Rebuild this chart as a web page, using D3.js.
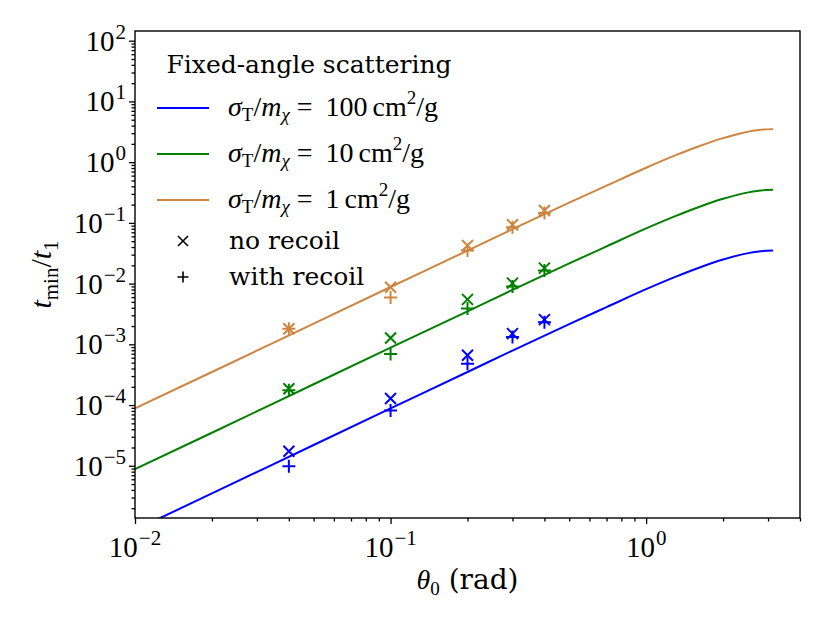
<!DOCTYPE html>
<html>
<head>
<meta charset="utf-8">
<script src="https://cdn.jsdelivr.net/npm/d3@7"></script>
<style>
  body { margin: 0; background: #fff; }
</style>
</head>
<body>
<script>
// curves, t_min/t_1 vs theta_0
var thetaLine = [0.01, 0.02, 0.05, 0.1, 0.2, 0.3, 0.5, 0.7, 1.0, 1.3, 1.6, 2.0, 2.4, 2.8, 3.14];
var line100 = [8.8e-7, 3.5e-6, 2.2e-5, 8.8e-5, 3.5e-4, 7.9e-4, 2.15e-3, 4.1e-3, 8.1e-3, 0.0129, 0.0181, 0.0249, 0.0306, 0.0342, 0.0350];
var line10 = [8.8e-6, 3.5e-5, 2.2e-4, 8.8e-4, 3.5e-3, 7.9e-3, 0.0215, 0.041, 0.081, 0.129, 0.181, 0.249, 0.306, 0.342, 0.350];
var line1 = [8.8e-5, 3.5e-4, 2.2e-3, 8.8e-3, 0.035, 0.079, 0.215, 0.41, 0.81, 1.29, 1.81, 2.49, 3.06, 3.42, 3.50];

// simulated points
var thetaPts = [0.04, 0.1, 0.2, 0.3, 0.4];
var noRecoil100 = [1.74e-5, 1.28e-4, 6.6e-4, 1.5e-3, 2.55e-3];
var withRecoil100 = [9.8e-6, 8.1e-5, 4.8e-4, 1.32e-3, 2.3e-3];
var noRecoil10 = [1.85e-4, 1.27e-3, 5.5e-3, 0.0102, 0.018];
var withRecoil10 = [1.75e-4, 6.95e-4, 3.9e-3, 9.0e-3, 0.0165];
var noRecoil1 = [1.8e-3, 8.7e-3, 0.0425, 0.093, 0.16];
var withRecoil1 = [1.8e-3, 5.9e-3, 0.035, 0.085, 0.145];

var xMajor = [-2, -1, 0];
var yMajor = [-5, -4, -3, -2, -1, 0, 1, 2];
var seriesNames = ["100", "10", "1"];

var width = 830,
  height = 623,
  pLeft = 135, pRight = 800, pTop = 31, pBottom = 518,
  mathFont = "'Liberation Serif', 'DejaVu Serif', serif",
  textFont = "'DejaVu Serif', serif",
  colors = ["#0000ff", "#008000", "#cd853f"];

var svg = d3.select("body").append("svg")
  .attr("width", width)
  .attr("height", height);

var x = d3.scaleLog().domain([0.01, 4]).range([pLeft, pRight]),
  y = d3.scaleLog().domain([Math.pow(10, -5.86), Math.pow(10, 2.16)]).range([pBottom, pTop]);

svg.append("clipPath").attr("id", "plot")
  .append("rect").attr("x", pLeft).attr("y", pTop)
  .attr("width", pRight - pLeft).attr("height", pBottom - pTop);

// minor ticks: 2..9 of every decade inside the domain
function minors(scale) {
  var d = scale.domain(), out = [];
  for (var e = -7; e <= 3; e++)
    for (var k = 2; k <= 9; k++) {
      var v = k * Math.pow(10, e);
      if (v >= d[0] && v <= d[1] * 1.0001) out.push(v);
    }
  return out;
}

function styleAxis(g) {
  g.select(".domain").remove();
  g.selectAll("line").attr("stroke", "#000").attr("stroke-width", 1.3);
  g.selectAll("text").remove();
}

svg.append("g").attr("transform", "translate(0," + pBottom + ")")
  .call(d3.axisBottom(x).tickValues(minors(x)).tickSize(3.5)).call(styleAxis);
svg.append("g").attr("transform", "translate(0," + pBottom + ")")
  .call(d3.axisBottom(x).tickValues(xMajor.map(function(e){ return Math.pow(10, e); })).tickSize(6)).call(styleAxis);
svg.append("g").attr("transform", "translate(" + pLeft + ",0)")
  .call(d3.axisLeft(y).tickValues(minors(y)).tickSize(3.5)).call(styleAxis);
svg.append("g").attr("transform", "translate(" + pLeft + ",0)")
  .call(d3.axisLeft(y).tickValues(yMajor.map(function(e){ return Math.pow(10, e); })).tickSize(6)).call(styleAxis);

function powLabel(t, e) {
  t.append("tspan").text("10");
  t.append("tspan").attr("dy", -12).attr("dx", 1).attr("font-size", 21)
    .text(e < 0 ? "\u2212" + (-e) : e);
}

svg.selectAll(".xlab").data(xMajor).enter().append("text")
  .attr("class", "xlab")
  .attr("x", function(e){ return x(Math.pow(10, e)); })
  .attr("y", 557)
  .attr("text-anchor", "middle")
  .attr("font-family", mathFont).attr("font-size", 29)
  .each(function(e){ powLabel(d3.select(this), e); });

svg.selectAll(".ylab").data(yMajor).enter().append("text")
  .attr("class", "ylab")
  .attr("x", 126)
  .attr("y", function(e){ return y(Math.pow(10, e)) + 10; })
  .attr("text-anchor", "end")
  .attr("font-family", mathFont).attr("font-size", 29)
  .each(function(e){ powLabel(d3.select(this), e); });

// lines
var lineGen = d3.line()
  .x(function(d){ return x(d[0]); })
  .y(function(d){ return y(d[1]); })
  .curve(d3.curveMonotoneX);

var plot = svg.append("g").attr("clip-path", "url(#plot)");
[line100, line10, line1].forEach(function(vals, i) {
  plot.append("path")
    .datum(d3.zip(thetaLine, vals))
    .attr("d", lineGen)
    .attr("fill", "none")
    .attr("stroke", colors[i])
    .attr("stroke-width", 2);
});

function crossPath(s) { return "M" + -s + "," + -s + "L" + s + "," + s + "M" + -s + "," + s + "L" + s + "," + -s; }
function plusPath(s) { return "M" + -s + ",0L" + s + ",0M0," + -s + "L0," + s; }

var noRecoil = [noRecoil100, noRecoil10, noRecoil1],
  withRecoil = [withRecoil100, withRecoil10, withRecoil1];

[0, 1, 2].forEach(function(i) {
  plot.selectAll(".nr" + i).data(d3.zip(thetaPts, noRecoil[i])).enter().append("path")
    .attr("transform", function(d){ return "translate(" + x(d[0]) + "," + y(d[1]) + ")"; })
    .attr("d", crossPath(5.5))
    .attr("stroke", colors[i]).attr("stroke-width", 2).attr("fill", "none");
  plot.selectAll(".wr" + i).data(d3.zip(thetaPts, withRecoil[i])).enter().append("path")
    .attr("transform", function(d){ return "translate(" + x(d[0]) + "," + y(d[1]) + ")"; })
    .attr("d", plusPath(6.5))
    .attr("stroke", colors[i]).attr("stroke-width", 2).attr("fill", "none");
});

// frame
svg.append("rect")
  .attr("x", pLeft).attr("y", pTop)
  .attr("width", pRight - pLeft).attr("height", pBottom - pTop)
  .attr("fill", "none").attr("stroke", "#000").attr("stroke-width", 1.4);

// axis titles
var xt = svg.append("text")
  .attr("x", (pLeft + pRight) / 2).attr("y", 589)
  .attr("text-anchor", "middle")
  .attr("font-size", 28);
xt.append("tspan").attr("font-family", mathFont).attr("font-style", "italic").text("\u03b8");
xt.append("tspan").attr("font-family", mathFont).attr("font-size", 19).attr("dy", 6).text("0");
xt.append("tspan").attr("font-family", textFont).attr("dy", -6).text(" (rad)");

var yt = svg.append("text")
  .attr("transform", "translate(51," + ((pTop + pBottom) / 2) + ") rotate(-90)")
  .attr("text-anchor", "middle")
  .attr("font-family", mathFont)
  .attr("font-size", 30);
yt.append("tspan").attr("font-style", "italic").text("t");
yt.append("tspan").attr("font-size", 21).attr("dy", 7).text("min");
yt.append("tspan").attr("dy", -7).text("/");
yt.append("tspan").attr("font-style", "italic").text("t");
yt.append("tspan").attr("font-size", 21).attr("dy", 7).text("1");

// legend
var legend = svg.append("g");
legend.append("text")
  .attr("x", 309).attr("y", 73)
  .attr("text-anchor", "middle")
  .attr("font-family", textFont).attr("font-size", 25)
  .text("Fixed-angle scattering");

var legY = [108, 154, 200];
seriesNames.forEach(function(n, i) {
  legend.append("line")
    .attr("x1", 157).attr("x2", 209)
    .attr("y1", legY[i]).attr("y2", legY[i])
    .attr("stroke", colors[i]).attr("stroke-width", 2);
  var t = legend.append("text")
    .attr("x", 228).attr("y", legY[i] + 8)
    .attr("font-family", mathFont).attr("font-size", 28);
  t.append("tspan").attr("font-style", "italic").text("\u03c3");
  t.append("tspan").attr("font-size", 19).attr("dy", 5).text("T");
  t.append("tspan").attr("dy", -5).text("/");
  t.append("tspan").attr("font-style", "italic").text("m");
  t.append("tspan").attr("font-style", "italic").attr("font-size", 19).attr("dy", 5).text("\u03c7");
  t.append("tspan").attr("dy", -5).attr("dx", 7).text("=");
  t.append("tspan").attr("dx", 13).text(n);
  t.append("tspan").attr("dx", 5).text("cm");
  t.append("tspan").attr("font-size", 19).attr("dy", -12).text("2");
  t.append("tspan").attr("dy", 12).text("/g");
});

var markY = [241, 277];
legend.append("path")
  .attr("transform", "translate(183," + markY[0] + ")")
  .attr("d", crossPath(5)).attr("stroke", "#000").attr("stroke-width", 1.6);
legend.append("path")
  .attr("transform", "translate(183," + markY[1] + ")")
  .attr("d", plusPath(5.5)).attr("stroke", "#000").attr("stroke-width", 1.6);
legend.append("text").attr("x", 229).attr("y", markY[0] + 8)
  .attr("font-family", textFont).attr("font-size", 25).text("no recoil");
legend.append("text").attr("x", 229).attr("y", markY[1] + 8)
  .attr("font-family", textFont).attr("font-size", 25).text("with recoil");
</script>
</body>
</html>
